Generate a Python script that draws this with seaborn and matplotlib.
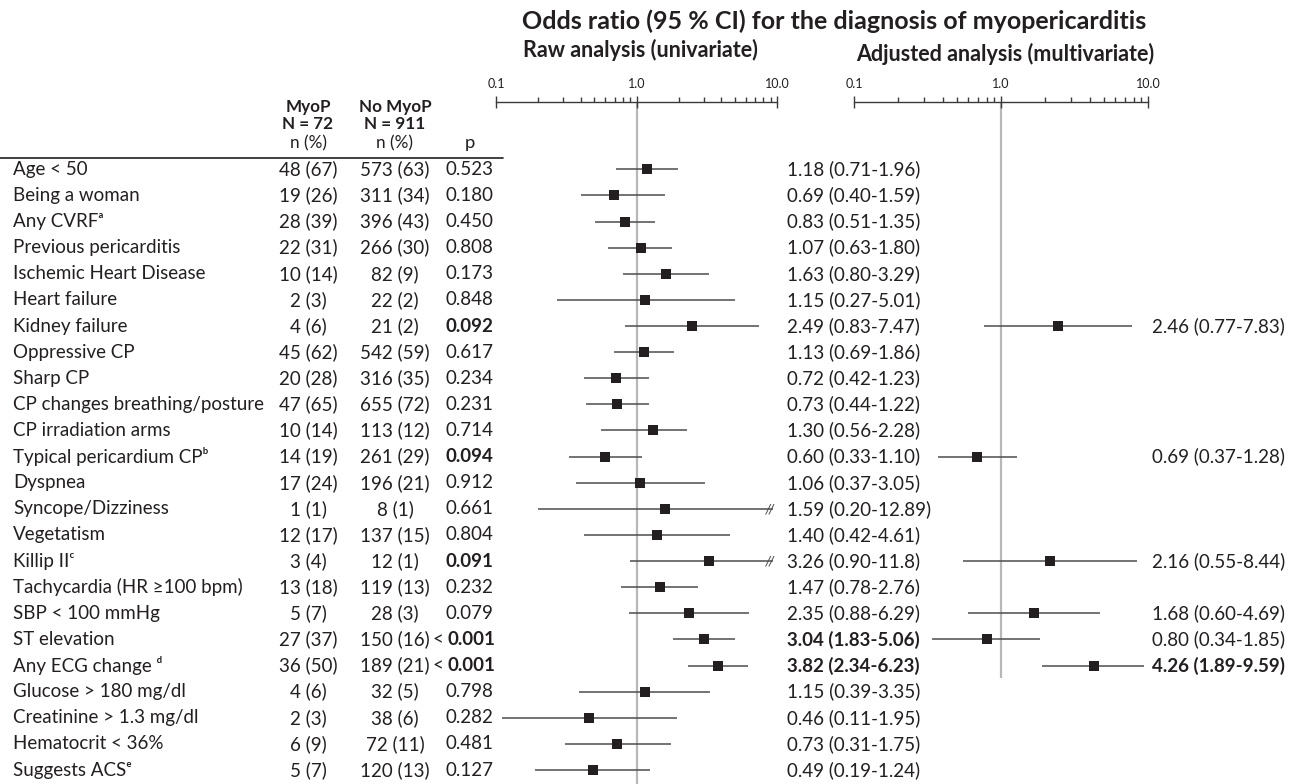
import numpy as np
import pandas as pd
import matplotlib
matplotlib.use("Agg")
import matplotlib.pyplot as plt
import seaborn as sns
from matplotlib.ticker import FixedLocator, NullFormatter, LogLocator

# ---------------- data ----------------
labels = ["Age < 50", "Being a woman", "Any CVRFᵃ", "Previous pericarditis",
          "Ischemic Heart Disease", "Heart failure", "Kidney failure", "Oppressive CP",
          "Sharp CP", "CP changes breathing/posture", "CP irradiation arms",
          "Typical pericardium CPᵇ", "Dyspnea", "Syncope/Dizziness", "Vegetatism",
          "Killip IIᶜ", "Tachycardia (HR ≥100 bpm)", "SBP < 100 mmHg", "ST elevation",
          "Any ECG change ᵈ", "Glucose > 180 mg/dl", "Creatinine > 1.3 mg/dl",
          "Hematocrit < 36%", "Suggests ACSᵉ"]
myop_n = [48, 19, 28, 22, 10, 2, 4, 45, 20, 47, 10, 14, 17, 1, 12, 3, 13, 5, 27, 36, 4, 2, 6, 5]
myop_pct = [67, 26, 39, 31, 14, 3, 6, 62, 28, 65, 14, 19, 24, 1, 17, 4, 18, 7, 37, 50, 6, 3, 9, 7]
nomyop_n = [573, 311, 396, 266, 82, 22, 21, 542, 316, 655, 113, 261, 196, 8, 137, 12, 119, 28,
            150, 189, 32, 38, 72, 120]
nomyop_pct = [63, 34, 43, 30, 9, 2, 2, 59, 35, 72, 12, 29, 21, 1, 15, 1, 13, 3, 16, 21, 5, 6, 11, 13]
p_values = ["0.523", "0.180", "0.450", "0.808", "0.173", "0.848", "0.092", "0.617", "0.234",
            "0.231", "0.714", "0.094", "0.912", "0.661", "0.804", "0.091", "0.232", "0.079",
            "< 0.001", "< 0.001", "0.798", "0.282", "0.481", "0.127"]
raw_or = [1.18, 0.69, 0.83, 1.07, 1.63, 1.15, 2.49, 1.13, 0.72, 0.73, 1.30, 0.60, 1.06, 1.59,
          1.40, 3.26, 1.47, 2.35, 3.04, 3.82, 1.15, 0.46, 0.73, 0.49]
raw_lo = [0.71, 0.40, 0.51, 0.63, 0.80, 0.27, 0.83, 0.69, 0.42, 0.44, 0.56, 0.33, 0.37, 0.20,
          0.42, 0.90, 0.78, 0.88, 1.83, 2.34, 0.39, 0.11, 0.31, 0.19]
raw_hi = [1.96, 1.59, 1.35, 1.80, 3.29, 5.01, 7.47, 1.86, 1.23, 1.22, 2.28, 1.10, 3.05, 12.89,
          4.61, 11.8, 2.76, 6.29, 5.06, 6.23, 3.35, 1.95, 1.75, 1.24]
adj_labels = ["Kidney failure", "Typical pericardium CPᵇ", "Killip IIᶜ", "SBP < 100 mmHg",
              "ST elevation", "Any ECG change ᵈ"]
adj_or = [2.46, 0.69, 2.16, 1.68, 0.80, 4.26]
adj_lo = [0.77, 0.37, 0.55, 0.60, 0.34, 1.89]
adj_hi = [7.83, 1.28, 8.44, 4.69, 1.85, 9.59]
tick_values = [0.1, 1.0, 10.0]
tick_labels = ["0.1", "1.0", "10.0"]

# p-values printed in bold in the source table
bold_p = {"0.092", "0.094", "0.091", "< 0.001"}

# ---------------- style ----------------
sns.set_theme(style="white")
plt.rcParams["font.family"] = ["Lato", "DejaVu Sans"]
TXT = "#231f20"
FS = 13.5

W, H = 1294, 784
ROW0, STEP = 169.3, 26.12          # pixel position of first row, row spacing


def row_of(px):
    return (px - ROW0) / STEP


def fmt(v):
    return f"{v:.2f}" if v < 10 else f"{v:.4g}"


raw = pd.DataFrame({"label": labels, "row": np.arange(len(labels)),
                    "or": raw_or, "lo": raw_lo, "hi": raw_hi})
adj = pd.DataFrame({"label": adj_labels, "or": adj_or, "lo": adj_lo, "hi": adj_hi})
adj["row"] = [labels.index(l) for l in adj_labels]

fig = plt.figure(figsize=(W / 100, H / 100), dpi=100)
fig.patch.set_facecolor("white")

# text/table layer in pixel-x, row-y coordinates
ax_t = fig.add_axes([0, 0, 1, 1])
ax_t.set_xlim(0, W)
ax_t.set_ylim(row_of(H), row_of(0))
ax_t.axis("off")

# header
hdr_fs = 12.3
for xc, top in [(308, "MyoP"), (395, "No MyoP")]:
    ax_t.text(xc, row_of(107), top, ha="center", va="center", fontsize=hdr_fs,
              fontweight="bold", color=TXT)
ax_t.text(308, row_of(124), "N = 72", ha="center", va="center", fontsize=hdr_fs,
          fontweight="bold", color=TXT)
ax_t.text(395, row_of(124), "N = 911", ha="center", va="center", fontsize=hdr_fs,
          fontweight="bold", color=TXT)
for xc in (308, 395):
    ax_t.text(xc, row_of(143), "n (%)", ha="center", va="center", fontsize=hdr_fs, color=TXT)
ax_t.text(470, row_of(143), "p", ha="center", va="center", fontsize=hdr_fs + 1, color=TXT)
ax_t.plot([0, 503], [row_of(158), row_of(158)], color=TXT, lw=1.2)

# title
ax_t.text(834, row_of(21), "Odds ratio (95 % CI) for the diagnosis of myopericarditis",
          ha="center", va="center", fontsize=18, fontweight="bold", color=TXT)
ax_t.text(640, row_of(50), "Raw analysis (univariate)", ha="center", va="center",
          fontsize=15.5, fontweight="bold", color=TXT)
ax_t.text(1005, row_of(54), "Adjusted analysis (multivariate)", ha="center", va="center",
          fontsize=15.5, fontweight="bold", color=TXT)

# table rows
for i, lab in enumerate(labels):
    ax_t.text(13, i, lab, ha="left", va="center", fontsize=FS, color=TXT)
    ax_t.text(308, i, f"{myop_n[i]} ({myop_pct[i]})", ha="center", va="center",
              fontsize=FS, color=TXT)
    ax_t.text(395, i, f"{nomyop_n[i]} ({nomyop_pct[i]})", ha="center", va="center",
              fontsize=FS, color=TXT)
    p = p_values[i]
    bw = "bold" if p in bold_p else "normal"
    if p.startswith("<"):
        ax_t.text(438, i, "<", ha="center", va="center", fontsize=FS, color=TXT)
        ax_t.text(447, i, p[1:].strip(), ha="left", va="center", fontsize=FS,
                  fontweight=bw, color=TXT)
    else:
        ax_t.text(469, i, p, ha="center", va="center", fontsize=FS, fontweight=bw, color=TXT)
    ax_t.text(787, i, f"{raw_or[i]:.2f} ({fmt(raw_lo[i])}-{fmt(raw_hi[i])})", ha="left",
              va="center", fontsize=FS, color=TXT,
              fontweight="bold" if raw_lo[i] > 1 else "normal")

for _, r in adj.iterrows():
    ax_t.text(1152, r["row"], f"{r['or']:.2f} ({fmt(r['lo'])}-{fmt(r['hi'])})", ha="left",
              va="center", fontsize=FS, color=TXT,
              fontweight="bold" if r["lo"] > 1 else "normal")


def forest(ax, df, vline_bottom):
    ax.set_xscale("log")
    ax.set_xlim(0.1, 10)
    ax.set_ylim(row_of(H), row_of(102))
    ax.patch.set_alpha(0)
    for s in ("left", "right", "bottom"):
        ax.spines[s].set_visible(False)
    ax.spines["top"].set_color("#3a3a3a")
    ax.spines["top"].set_linewidth(1.0)
    ax.xaxis.tick_top()
    ax.xaxis.set_major_locator(FixedLocator(tick_values))
    ax.set_xticklabels(tick_labels)
    ax.xaxis.set_minor_locator(LogLocator(base=10, subs=np.arange(2, 10)))
    ax.xaxis.set_minor_formatter(NullFormatter())
    ax.tick_params(axis="x", which="major", direction="inout", length=9, width=1,
                   color="#3a3a3a", labelsize=9, pad=4, labelcolor=TXT, top=True, bottom=False)
    ax.tick_params(axis="x", which="minor", direction="out", length=3.5, width=1,
                   color="#3a3a3a", top=True, bottom=False)
    ax.set_yticks([])
    ax.vlines(1.0, row_of(102), vline_bottom, color="#b8b8b8", lw=1.6, zorder=0)
    hi_clip = np.minimum(df["hi"].values, 9.4)
    ax.hlines(df["row"], df["lo"], hi_clip, color="#4d4d4d", lw=1.1, zorder=2)
    for _, r in df[df["hi"] > 10].iterrows():
        ax.text(9.0, r["row"], "//", ha="center", va="center", fontsize=9,
                color="#4d4d4d", family="DejaVu Sans", style="italic")
    sns.scatterplot(data=df, x="or", y="row", marker="s", s=46, color=TXT,
                    linewidth=0, ax=ax, zorder=3, legend=False)
    ax.set_xlabel("")
    ax.set_ylabel("")
    ax.set_yticks([])


ax_raw = fig.add_axes([496 / W, 0, (777 - 496) / W, (H - 102) / H])
forest(ax_raw, raw, row_of(H))
ax_adj = fig.add_axes([854 / W, 0, (1148 - 854) / W, (H - 102) / H])
forest(ax_adj, adj, row_of(678))

fig.savefig("out.png", dpi=100, facecolor="white")
